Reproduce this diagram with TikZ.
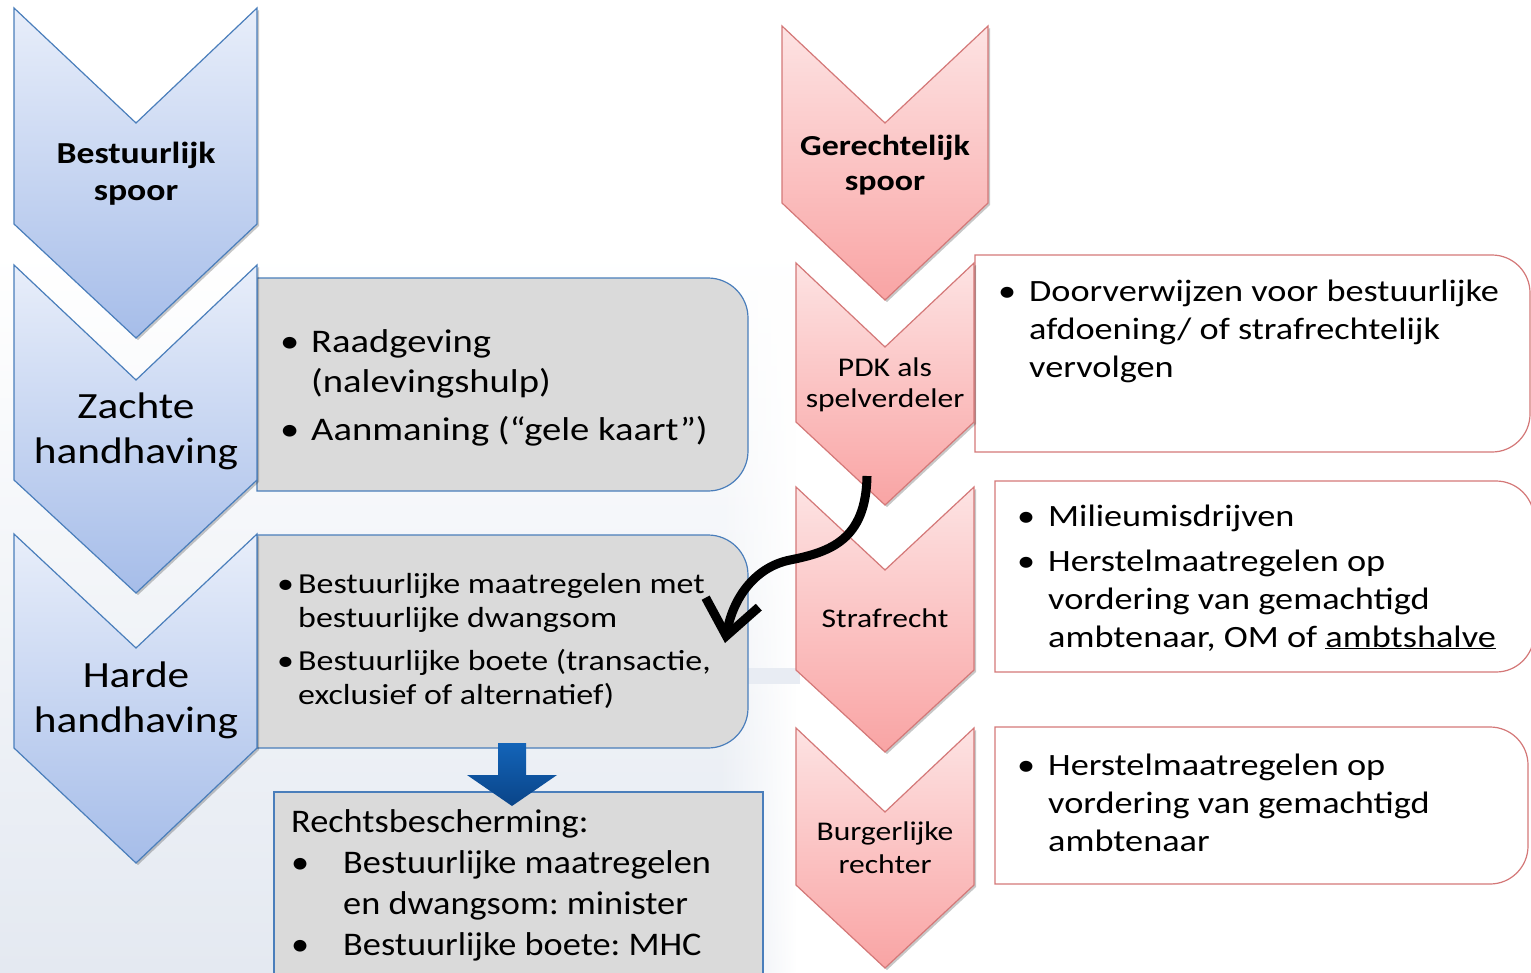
\documentclass[tikz,border=0pt]{standalone}
\usepackage{fontspec}
\setmainfont{Carlito}[FakeStretch=1.17]
\newfontfamily\rbfont{Carlito}[FakeStretch=1.10]
\usetikzlibrary{arrows.meta,shadows,fadings}
\definecolor{bluetop}{HTML}{E8EEFA}
\definecolor{bluebot}{HTML}{A6BDE9}
\definecolor{blueedge}{HTML}{4A7EBB}
\definecolor{redtop}{HTML}{FDE3E3}
\definecolor{redbot}{HTML}{F9A4A4}
\definecolor{rededge}{HTML}{D47878}
\definecolor{boxgray}{HTML}{DADADA}
\definecolor{arrowtop}{HTML}{1364B8}
\definecolor{arrowbot}{HTML}{0A4488}
\definecolor{bggray}{HTML}{F3F3F3}
\definecolor{bgblue}{HTML}{E4E9F1}
\newcommand{\mybul}[1]{\makebox[#1][l]{\textbullet}}
\frenchspacing
\begin{document}
\begin{tikzpicture}[x=1pt,y=-1pt,
  shad/.style={drop shadow={shadow xshift=2pt,shadow yshift=-2pt,opacity=0.22,fill=black}},
  bluechev/.style={shad,top color=bluetop,bottom color=bluebot,draw=blueedge,line width=1.2pt},
  redchev/.style={shad,top color=redtop,bottom color=redbot,draw=rededge,line width=1.2pt},
  graybox/.style={fill=boxgray,draw=blueedge,line width=1.2pt},
  redbox/.style={fill=white,draw=rededge,line width=1.2pt},
  lbl/.style={inner sep=0pt,anchor=base},
  txt/.style={inner sep=0pt,anchor=base west},
  bluearrow/.style={top color=arrowtop,bottom color=arrowbot,draw=none},
  blackarrow/.style={line width=9pt,-{Straight Barb[length=34pt,width=54pt]}}
]
\useasboundingbox (0,0) rectangle (1531,972);
% background
\fill[white] (0,0) rectangle (1531,972);
\shade[top color=white,middle color=bggray,bottom color=bgblue] (0,250) rectangle (720,972);
\shade[top color=white,middle color=bggray,bottom color=bgblue,path fading=east] (719,250) rectangle (796,972);
\fill[bgblue!85!white] (748,668) rectangle (800,684);

% gray boxes (left track)
\path[graybox] (257,278) [rounded corners=40pt] -- (748,278) -- (748,491) [sharp corners] -- (257,491) -- cycle;
\path[graybox] (257,535) [rounded corners=40pt] -- (748,535) -- (748,748) [sharp corners] -- (257,748) -- cycle;
\path[graybox] (274,792) rectangle (763,990);

% red boxes (right track)
\path[redbox] (975,255) [rounded corners=38pt] -- (1530,255) -- (1530,452) [sharp corners] -- (975,452) -- cycle;
\path[redbox] (995,481) [rounded corners=38pt] -- (1534,481) -- (1534,672) [sharp corners] -- (995,672) -- cycle;
\path[redbox] (995,727) [rounded corners=38pt] -- (1528,727) -- (1528,884) [sharp corners] -- (995,884) -- cycle;

% blue chevrons
\path[bluechev] (14,8) -- (136,123) -- (257,8) -- (257,224) -- (136,338) -- (14,224) -- cycle;
\path[bluechev] (14,265) -- (136,380) -- (257,265) -- (257,480) -- (136,593) -- (14,480) -- cycle;
\path[bluechev] (14,534) -- (136,648) -- (257,534) -- (257,748) -- (136,863) -- (14,748) -- cycle;

% red chevrons
\path[redchev] (796,263) -- (885,347) -- (974,263) -- (974,422) -- (885,505) -- (796,422) -- cycle;
\path[redchev] (782,26) -- (885,123) -- (988,26) -- (988,203) -- (885,300) -- (782,203) -- cycle;
\path[redchev] (796,487) -- (885,570) -- (974,487) -- (974,670) -- (885,752) -- (796,670) -- cycle;
\path[redchev] (796,728) -- (885,812) -- (974,728) -- (974,885) -- (885,968) -- (796,885) -- cycle;

% chevron labels
\node[lbl,font=\bfseries\fontsize{30.5}{37}\selectfont] (bsp) at (136,163) {\begin{tabular}[t]{@{}c@{}}Bestuurlijk\\spoor\end{tabular}};
\node[lbl,font=\fontsize{37}{45}\selectfont] (zh) at (136,418) {\begin{tabular}[t]{@{}c@{}}Zachte\\handhaving\end{tabular}};
\node[lbl,font=\fontsize{37}{45}\selectfont] (hh) at (136,687) {\begin{tabular}[t]{@{}c@{}}Harde\\handhaving\end{tabular}};
\node[lbl,font=\bfseries\fontsize{29}{35}\selectfont] (gsp) at (885,155) {\begin{tabular}[t]{@{}c@{}}Gerechtelijk\\spoor\end{tabular}};
\node[lbl,font=\fontsize{27}{31}\selectfont] (pdk) at (885,376) {\begin{tabular}[t]{@{}c@{}}PDK als\\spelverdeler\end{tabular}};
\node[lbl,font=\fontsize{27}{31}\selectfont] (str) at (885,627) {Strafrecht};
\node[lbl,font=\fontsize{27}{33}\selectfont] (brg) at (885,840) {\begin{tabular}[t]{@{}c@{}}Burgerlijke\\rechter\end{tabular}};

% box texts
\node[txt,font=\fontsize{33}{40}\selectfont] (zt) at (280,352) {\begin{tabular}[t]{@{}l@{}l@{}}\mybul{31pt} & Raadgeving\\ & (nalevingshulp)\\[8pt] \mybul{31pt} & Aanmaning (“gele kaart”)\end{tabular}};
\node[txt,font=\fontsize{29}{34}\selectfont] (ht) at (277,593) {\begin{tabular}[t]{@{}l@{}l@{}}\mybul{21pt} & Bestuurlijke maatregelen met\\ & bestuurlijke dwangsom\\[9pt] \mybul{21pt} & Bestuurlijke boete (transactie,\\ & exclusief of alternatief)\end{tabular}};
\node[txt,font=\rbfont\fontsize{33}{41}\selectfont] (rb) at (291,832) {\begin{tabular}[t]{@{}l@{}l@{}}\multicolumn{2}{@{}l@{}}{Rechtsbescherming:}\\ \mybul{52pt} & Bestuurlijke maatregelen\\ & en dwangsom: minister\\ \mybul{52pt} & Bestuurlijke boete: MHC\end{tabular}};
\node[txt,font=\fontsize{31}{38}\selectfont] (r1) at (998,301) {\begin{tabular}[t]{@{}l@{}l@{}}\mybul{31pt} & Doorverwijzen voor bestuurlijke\\ & afdoening/ of strafrechtelijk\\ & vervolgen\end{tabular}};
\node[txt,font=\fontsize{31}{38}\selectfont] (r2) at (1017,526) {\begin{tabular}[t]{@{}l@{}l@{}}\mybul{31pt} & Milieumisdrijven\\[7pt] \mybul{31pt} & Herstelmaatregelen op\\ & vordering van gemachtigd\\ & ambtenaar, OM of \underline{ambtshalve}\end{tabular}};
\node[txt,font=\fontsize{31}{38}\selectfont] (r3) at (1017,775) {\begin{tabular}[t]{@{}l@{}l@{}}\mybul{31pt} & Herstelmaatregelen op\\ & vordering van gemachtigd\\ & ambtenaar\end{tabular}};

% blue block arrow
\path[bluearrow] (498,743) -- (526,743) -- (526,775) -- (557,775) -- (512,806) -- (467,775) -- (498,775) -- cycle;

% black curved arrow
\coordinate (pdkout) at (867,476);
\coordinate (hardein) at (725,643);
\draw[blackarrow] (pdkout) .. controls (866,540) and (830,552) .. (790,560) .. controls (755,567) and (733,598) .. (hardein);
\end{tikzpicture}
\end{document}
